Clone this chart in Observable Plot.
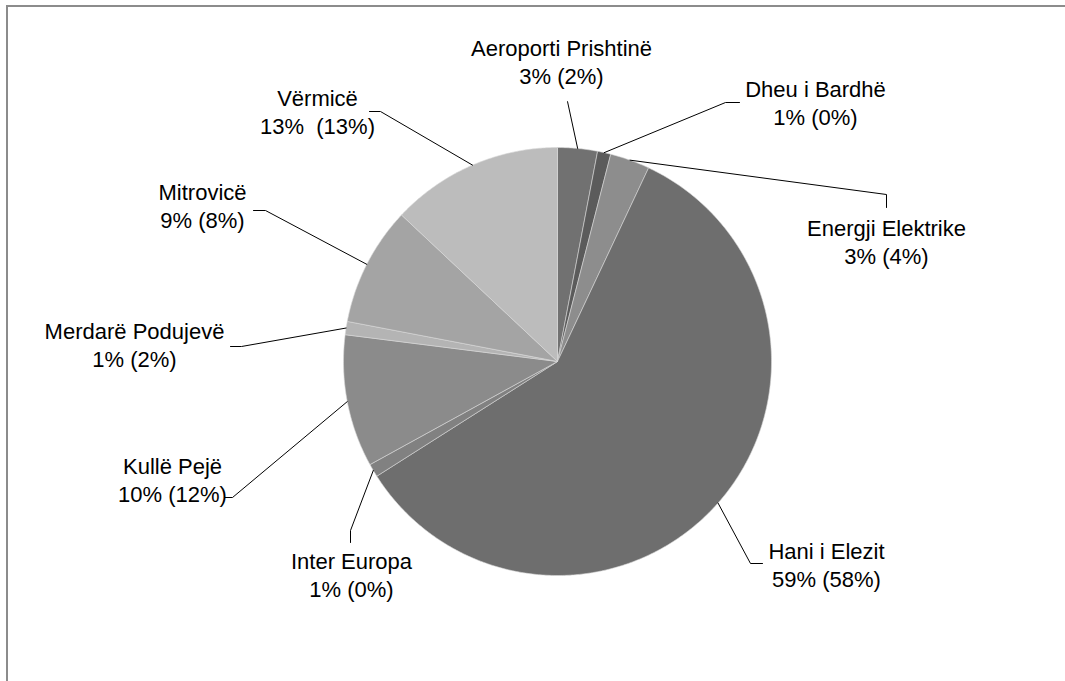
<!DOCTYPE html>
<html>
<head>
<meta charset="utf-8">
<script src="https://cdn.jsdelivr.net/npm/d3@7"></script>
<script src="https://cdn.jsdelivr.net/npm/@observablehq/plot@0.6"></script>
<style>
  html, body { margin: 0; padding: 0; background: #fff; overflow: hidden; }
  #wrap { position: relative; width: 1065px; height: 681px; }
  #frame { position: absolute; left: 6px; top: 5px; width: 1059px; height: 676px;
           border-top: 2px solid #8c8c8c; border-left: 2px solid #8c8c8c; box-sizing: border-box; }
  #chart { position: absolute; left: 0; top: 0; }
  #chart svg text { white-space: pre; }
</style>
</head>
<body>
<div id="wrap"><div id="frame"></div><div id="chart"></div></div>
<script>
// ---- data ----
const names = ["Aeroporti Prishtinë", "Dheu i Bardhë", "Energji Elektrike", "Hani i Elezit",
               "Inter Europa", "Kullë Pejë", "Merdarë Podujevë", "Mitrovicë", "Vërmicë"];
const shares = [3, 1, 3, 59, 1, 10, 1, 9, 13];          // current share (%)
const prevShares = [2, 0, 4, 58, 0, 12, 2, 8, 13];      // share in parentheses (%)

// ---- styles / layout ----
const grays = ["#717171", "#5b5b5b", "#8d8d8d", "#6e6e6e", "#818181", "#8b8b8b", "#b4b4b4", "#a4a4a4", "#bcbcbc"];
const W = 1065, H = 681;
const CX = 557, CY = 361, R = 214;
// label block centre, leader elbow, leader end (pixels in the page)
const labelLayout = [
  {tx: 561, ty: 61,  elbow: [567, 101], end: [567, 101]},
  {tx: 815, ty: 102, elbow: [725, 102], end: [739, 102]},
  {tx: 886, ty: 241, elbow: [886, 194], end: [886, 207]},
  {tx: 826, ty: 564, elbow: [750, 563], end: [762, 563]},
  {tx: 351, ty: 574, elbow: [350, 530], end: [350, 542]},
  {tx: 172, ty: 479, elbow: [232, 497], end: [224, 497]},
  {tx: 134, ty: 344, elbow: [241, 346], end: [230, 346]},
  {tx: 202, ty: 205, elbow: [265, 210], end: [253, 210]},
  {tx: 317, ty: 111, elbow: [380, 111], end: [369, 111]}
];

// ---- geometry derived from the values ----
const total = d3.sum(shares);
const toXY = (deg, r) => {
  const a = deg * Math.PI / 180;
  return [r * Math.sin(a), -r * Math.cos(a)];
};
const slices = [];
let acc = 0;
names.forEach((name, i) => {
  const a0 = acc / total * 360;
  acc += shares[i];
  const a1 = acc / total * 360;
  slices.push({name, i, a0, a1, mid: (a0 + a1) / 2});
});

const slicePts = [];
for (const s of slices) {
  slicePts.push({name: s.name, x: 0, y: 0});
  const n = Math.max(2, Math.ceil((s.a1 - s.a0) / 0.5));
  for (let k = 0; k <= n; k++) {
    const [x, y] = toXY(s.a0 + (s.a1 - s.a0) * k / n, R);
    slicePts.push({name: s.name, x, y});
  }
  slicePts.push({name: s.name, x: 0, y: 0});
}

const leaderPts = [];
const labelData = [];
slices.forEach((s, i) => {
  const L = labelLayout[i];
  const [ex, ey] = toXY(s.mid, R);
  leaderPts.push({name: s.name, x: ex, y: ey});
  leaderPts.push({name: s.name, x: L.elbow[0] - CX, y: L.elbow[1] - CY});
  leaderPts.push({name: s.name, x: L.end[0] - CX, y: L.end[1] - CY});
  const sep = s.name === "Vërmicë" ? "  " : " ";
  labelData.push({
    x: L.tx - CX, y: L.ty - CY,
    text: `${s.name}\n${shares[i]}%${sep}(${prevShares[i]}%)`
  });
});

const chart = Plot.plot({
  width: W, height: H,
  marginTop: 0, marginRight: 0, marginBottom: 0, marginLeft: 0,
  x: {type: "linear", domain: [-CX, W - CX], range: [0, W], axis: null},
  y: {type: "linear", domain: [-CY, H - CY], range: [0, H], axis: null},
  color: {type: "ordinal", domain: names, range: grays, legend: false},
  style: {background: "transparent", fontFamily: "'Liberation Sans', Arial, sans-serif"},
  marks: [
    Plot.line(slicePts, {x: "x", y: "y", z: "name", fill: "name", stroke: "#d8d8d8", strokeWidth: 0.6, curve: "linear"}),
    Plot.line(leaderPts, {x: "x", y: "y", z: "name", stroke: "#000", strokeWidth: 1, curve: "linear"}),
    Plot.text(labelData, {x: "x", y: "y", text: "text", fontSize: 22, lineHeight: 28 / 22,
                          lineAnchor: "middle", textAnchor: "middle", fill: "#000"})
  ]
});
document.getElementById("chart").appendChild(chart);
</script>
</body>
</html>
